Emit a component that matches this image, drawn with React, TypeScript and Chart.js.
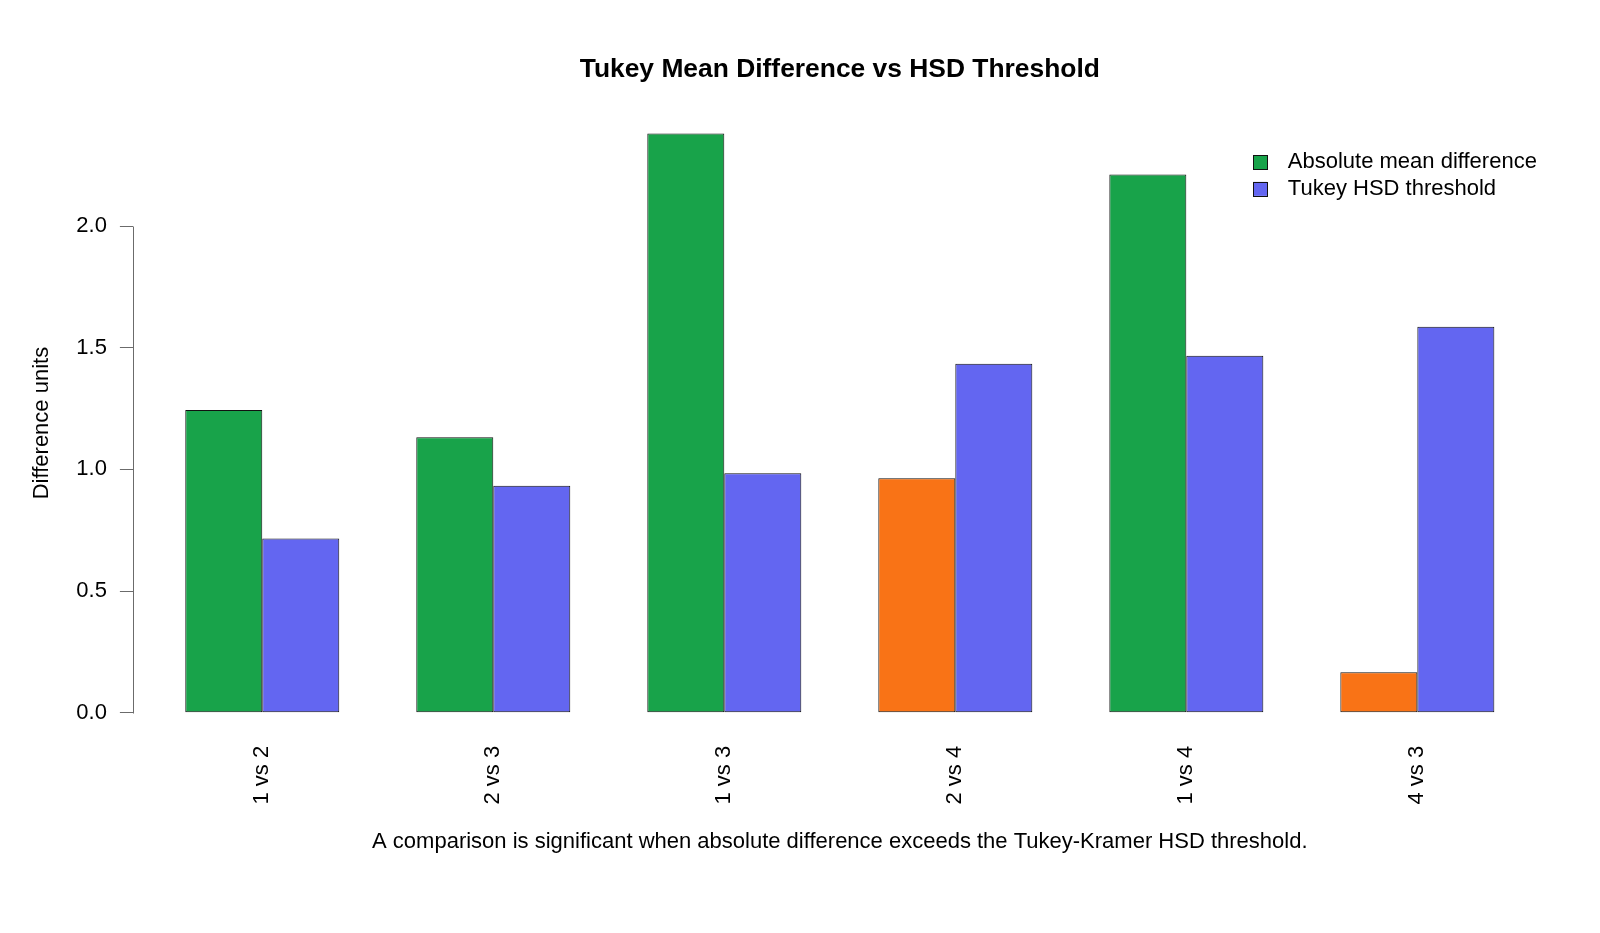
import { useEffect, useRef } from "react";
import { Chart, registerables } from "chart.js";

Chart.register(...registerables);

// Pairwise comparisons and their statistics
const comparisons = ["1 vs 2", "2 vs 3", "1 vs 3", "2 vs 4", "1 vs 4", "4 vs 3"];
const meanDiff = [1.244, 1.132, 2.381, 0.964, 2.212, 0.166];
const hsdThreshold = [0.716, 0.933, 0.984, 1.434, 1.467, 1.586];
const yTicks = [0, 0.5, 1, 1.5, 2];
const seriesLabels = ["Absolute mean difference", "Tukey HSD threshold"];

const GREEN = "#18a34a";
const ORANGE = "#f97316";
const BLUE = "#6366f1";
const EDGE = "#111111";
const AXIS_GRAY = "#6b6b6b";
const FONT = '"Liberation Sans", Arial, Helvetica, sans-serif';
const BASE = 22;

// Value range padded by 4% on each side, like a classic barplot
const yTop = Math.max(...meanDiff, ...hsdThreshold);
const yMin = -0.04 * yTop;
const yMax = 1.04 * yTop;

// Each group is 2 bars wide plus 1 bar of space; x is measured in groups
const n = comparisons.length;
const span = 3 * n - 1;
const ext = 0.04 * span;
const xMin = (1 - ext - 2) / 3;
const xMax = (3 * n + ext - 2) / 3;

const axisAndLegend = {
  id: "axisAndLegend",
  afterDraw(chart: any) {
    const { ctx, chartArea, scales } = chart;
    const y = scales.y;
    ctx.save();
    // y axis line spanning only the tick range
    ctx.strokeStyle = AXIS_GRAY;
    ctx.lineWidth = 1;
    const ax = Math.round(chartArea.left) + 0.5;
    ctx.beginPath();
    ctx.moveTo(ax, Math.round(y.getPixelForValue(yTicks[0])) + 0.5);
    ctx.lineTo(ax, Math.round(y.getPixelForValue(yTicks[yTicks.length - 1])) + 0.5);
    ctx.stroke();

    // legend in the top-right corner
    const colors = [GREEN, BLUE];
    const swatchX = chartArea.right - 293.7;
    const textX = chartArea.right - 258.9;
    const row0 = chartArea.top + 52;
    const step = 26.6;
    ctx.font = `${BASE}px ${FONT}`;
    ctx.textBaseline = "middle";
    ctx.textAlign = "left";
    seriesLabels.forEach((label, i) => {
      const cy = row0 + i * step;
      ctx.fillStyle = colors[i];
      ctx.fillRect(swatchX, cy - 7, 14, 14);
      ctx.strokeStyle = EDGE;
      ctx.strokeRect(Math.round(swatchX) + 0.5, Math.round(cy - 7) + 0.5, 14, 14);
      ctx.fillStyle = "#000";
      ctx.fillText(label, textX, cy);
    });
    ctx.restore();
  },
};

export default function App() {
  const ref = useRef<HTMLCanvasElement>(null);

  useEffect(() => {
    document.body.style.margin = "0";
    Chart.defaults.font.family = FONT;
    const canvas = ref.current!;
    const chart = new Chart(canvas, {
      type: "bar",
      data: {
        datasets: [
          {
            label: seriesLabels[0],
            data: meanDiff.map((v, i) => ({ x: i, y: v })),
            backgroundColor: meanDiff.map((v, i) => (v > hsdThreshold[i] ? GREEN : ORANGE)),
            borderColor: EDGE,
            borderWidth: 1,
            borderSkipped: false,
          },
          {
            label: seriesLabels[1],
            data: hsdThreshold.map((v, i) => ({ x: i, y: v })),
            backgroundColor: BLUE,
            borderColor: EDGE,
            borderWidth: 1,
            borderSkipped: false,
          },
        ],
      } as any,
      options: {
        responsive: false,
        animation: false,
        devicePixelRatio: 1,
        layout: { padding: { left: 0, right: 53.3, top: 0, bottom: 0 } },
        datasets: { bar: { categoryPercentage: 2 / 3, barPercentage: 1 } },
        scales: {
          x: {
            type: "linear",
            bounds: "data",
            min: xMin,
            max: xMax,
            offset: false,
            grid: { display: false, drawTicks: false },
            border: { display: false },
            afterBuildTicks: (s: any) => {
              s.ticks = comparisons.map((_, i) => ({ value: i }));
            },
            afterFit: (s: any) => {
              s.height = 82.76;
            },
            ticks: {
              autoSkip: false,
              minRotation: 90,
              maxRotation: 90,
              padding: 10,
              color: "#000",
              font: { size: BASE },
              callback: (_v: any, i: number) => comparisons[i],
            },
          },
          y: {
            type: "linear",
            bounds: "data",
            min: yMin,
            max: yMax,
            grid: { drawOnChartArea: false, drawTicks: true, tickLength: 13, color: AXIS_GRAY },
            border: { display: false },
            afterBuildTicks: (s: any) => {
              s.ticks = yTicks.map((v) => ({ value: v }));
            },
            afterFit: (s: any) => {
              s.width = 132.9;
            },
            ticks: {
              padding: 13,
              color: "#000",
              font: { size: BASE },
              callback: (v: any) => Number(v).toFixed(1),
            },
            title: {
              display: true,
              text: "Difference units",
              color: "#000",
              font: { size: BASE },
              padding: { top: 28.5, bottom: 0 },
            },
          },
        },
        plugins: {
          legend: { display: false },
          tooltip: { enabled: false },
          title: {
            display: true,
            fullSize: false,
            text: "Tukey Mean Difference vs HSD Threshold",
            color: "#000",
            font: { size: 26.4, weight: "bold" },
            padding: { top: 54.2, bottom: 24.4 },
          },
          subtitle: {
            display: true,
            fullSize: false,
            position: "bottom",
            text: "A comparison is significant when absolute difference exceeds the Tukey-Kramer HSD threshold.",
            color: "#000",
            font: { size: BASE, weight: "normal" },
            padding: { top: 10, bottom: 78 },
          },
        },
      } as any,
      plugins: [axisAndLegend],
    });
    return () => chart.destroy();
  }, []);

  return (
    <div style={{ width: 1600, height: 933, overflow: "hidden", background: "#fff" }}>
      <canvas ref={ref} width={1600} height={933} style={{ display: "block" }} />
    </div>
  );
}
